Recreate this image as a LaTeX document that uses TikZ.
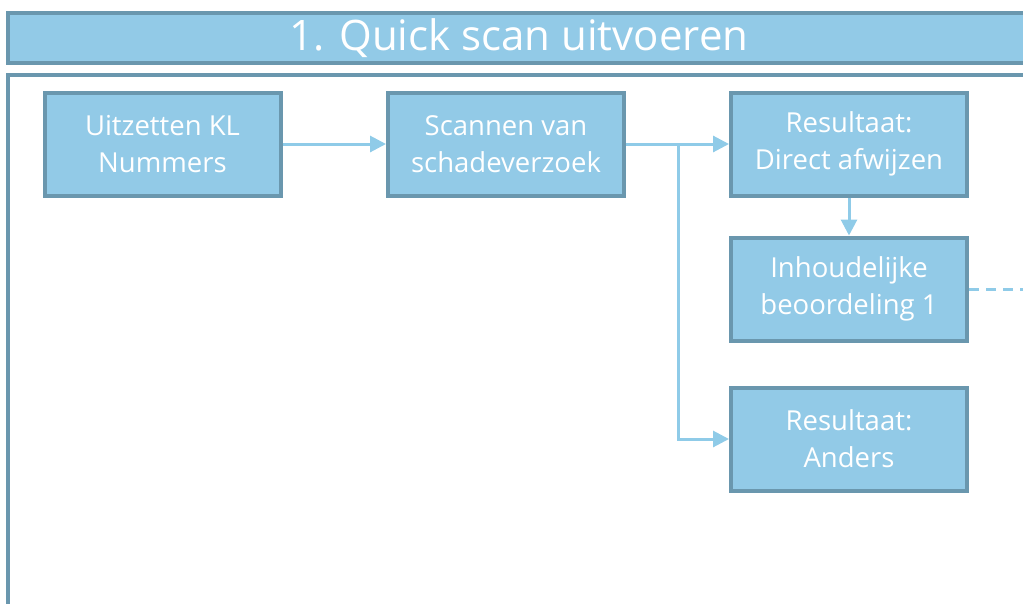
\documentclass[tikz,border=0pt]{standalone}
\usepackage{fontspec}
\setmainfont{Open Sans}
\usetikzlibrary{positioning,arrows.meta}
\definecolor{boxfill}{HTML}{92CAE7}
\definecolor{boxline}{HTML}{6A97AE}
\definecolor{flowline}{HTML}{8FCBE8}
\tikzset{
  stepbox/.style={draw=boxline,fill=boxfill,line width=4pt,minimum width=236pt,minimum height=103pt,
    text=white,align=center,font=\fontsize{27.5}{37}\selectfont},
  flow/.style={draw=flowline,line width=3pt,-{Triangle[length=16pt,width=16pt]}}
}
\begin{document}
\begin{tikzpicture}[x=1pt,y=-1pt]
	%% canvas
	\useasboundingbox (0,0) rectangle (1023,603);
	\clip (0,0) rectangle (1023,603);

	% title bar and frame
	\draw[draw=boxline,fill=boxfill,line width=4pt] (8,13) rectangle (1040,63);
	\node[text=white,font=\fontsize{42}{46}\selectfont] (title) at (519,38) {1. Quick scan uitvoeren};
	\draw[draw=boxline,line width=4pt] (1040,75) -- (8,75) -- (8,620);

	% boxes
	\node[stepbox] (kl)   at (162.5,144) {Uitzetten KL\\Nummers};
	\node[stepbox] (scan) at (506,144)   {Scannen van\\schadeverzoek};
	\node[stepbox] (res1) at (849,144)   {Resultaat:\\Direct afwijzen};
	\node[stepbox] (inh)  at (849,289)   {Inhoudelijke\\beoordeling 1};
	\node[stepbox] (res2) at (849,439)   {Resultaat:\\Anders};

	\coordinate (split) at (678,144);
	\coordinate (away) at (1030,289);

	% connectors
	\draw[flow] (kl.east) -- (scan.west);
	\draw[flow] (scan.east) -- (res1.west);
	\draw[flow] (split) |- (res2.west);
	\draw[flow] (res1.south) -- (inh.north);
	\draw[draw=flowline,line width=3pt,dash pattern=on 10pt off 7pt] (inh.east) -- (away);
\end{tikzpicture}
\end{document}
